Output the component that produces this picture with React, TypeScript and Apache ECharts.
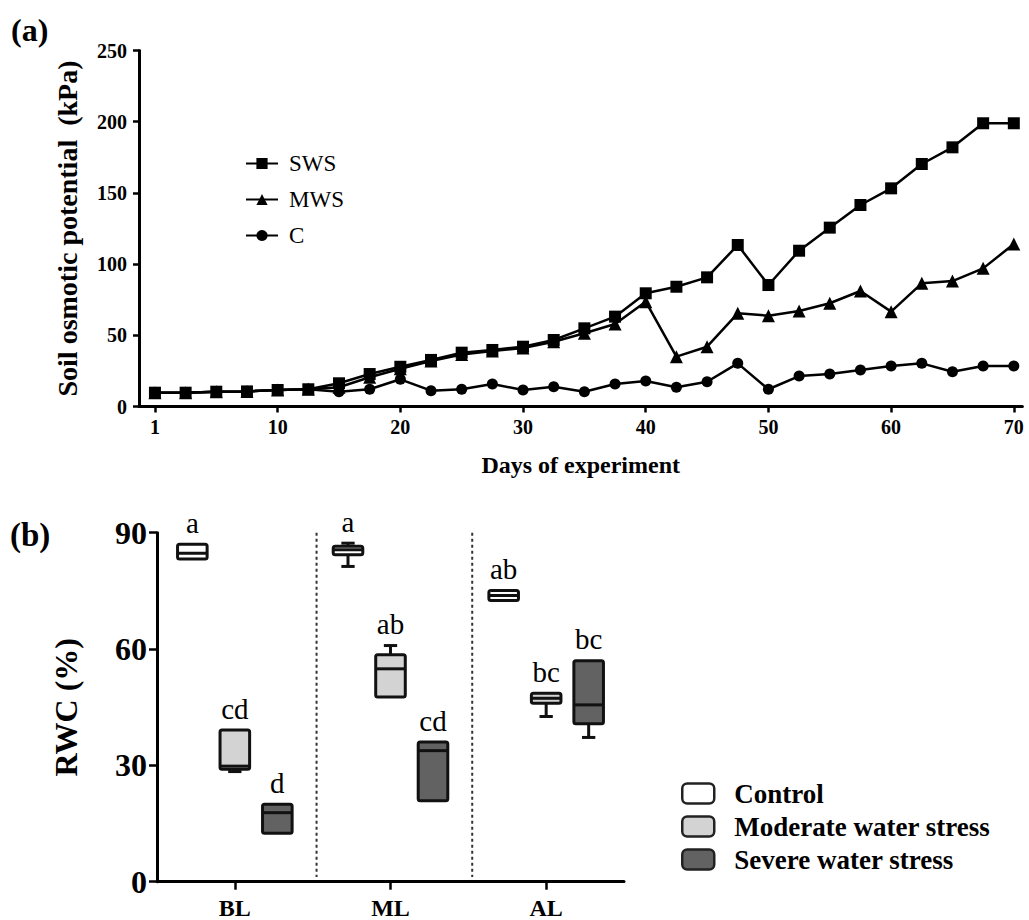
import React, { useEffect, useRef } from "react";
import * as echarts from "echarts";

const FONT = "'Liberation Serif', 'Times New Roman', serif";

// ---- Panel (a): soil osmotic potential ----
const days = [0, 2.5, 5, 7.5, 10, 12.5, 15, 17.5, 20, 22.5, 25, 27.5, 30, 32.5, 35, 37.5, 40, 42.5, 45, 47.5, 50, 52.5, 55, 57.5, 60, 62.5, 65, 67.5, 70];
const swsValues = [9.7, 9.7, 10.4, 10.6, 11.6, 12.1, 16.3, 22.8, 27.9, 32.7, 37.8, 39.7, 42.0, 46.7, 54.9, 63.1, 79.5, 84.1, 90.7, 113.4, 85.3, 109.4, 125.6, 141.5, 153.2, 170.3, 182.0, 198.9, 198.9];
const mwsValues = [9.7, 9.7, 10.4, 10.6, 11.6, 12.1, 13.5, 20.5, 26.5, 32.0, 36.5, 39.0, 41.0, 45.5, 51.4, 57.9, 73.6, 35.0, 42.0, 65.4, 63.8, 67.1, 72.5, 81.1, 66.6, 86.5, 88.1, 97.0, 114.1];
const cValues = [9.7, 9.7, 10.4, 10.6, 11.6, 12.1, 10.4, 12.1, 19.1, 11.1, 12.1, 15.8, 11.6, 13.9, 10.4, 15.8, 17.9, 13.5, 17.4, 30.3, 12.1, 21.4, 22.8, 25.6, 28.4, 30.3, 24.4, 28.4, 28.4];
const dayTickValues = [0, 10, 20, 30, 40, 50, 60, 70];
const dayTickLabels = ["1", "10", "20", "30", "40", "50", "60", "70"];

// ---- Panel (b): RWC box plots ----
const rwcCategories = ["BL", "ML", "AL"];
// [min, q1, median, q3, max]
const controlBoxes = [
  [83.2, 83.2, 84.7, 87.0, 87.0],
  [81.3, 84.3, 85.6, 86.5, 87.3],
  [72.5, 72.5, 73.8, 75.1, 75.1],
];
const moderateBoxes = [
  [28.4, 29.0, 29.8, 39.1, 39.1],
  [47.6, 47.6, 54.9, 58.5, 60.9],
  [42.6, 46.0, 47.3, 48.6, 48.6],
];
const severeBoxes = [
  [12.5, 12.5, 17.8, 20.0, 20.0],
  [20.9, 20.9, 33.8, 36.0, 36.0],
  [37.2, 40.7, 45.6, 57.0, 57.0],
];
const controlLetters = ["a", "a", "ab"];
const moderateLetters = ["cd", "ab", "bc"];
const severeLetters = ["d", "cd", "bc"];
const separatorPositions = [0.525, 1.525];

const groupNames = ["Control", "Moderate water stress", "Severe water stress"];
const groupFills = ["#ffffff", "#d3d3d3", "#626262"];

function boxSeries(name: string, boxes: number[][], letters: string[], offset: number, fill: string) {
  return {
    type: "custom",
    name,
    xAxisIndex: 1,
    yAxisIndex: 1,
    clip: false,
    silent: true,
    z: 3,
    itemStyle: { color: fill, borderColor: "#111", borderWidth: 2.5 },
    encode: { x: 0, y: [1, 2, 3, 4, 5] },
    data: boxes.map((b, i) => [i, b[0], b[1], b[2], b[3], b[4]]),
    renderItem: (params: any, api: any) => {
      const x = api.value(0) + offset;
      const vMin = api.value(1), vQ1 = api.value(2), vMed = api.value(3), vQ3 = api.value(4), vMax = api.value(5);
      const cx = api.coord([x, vMed])[0];
      const yMin = api.coord([x, vMin])[1];
      const yQ1 = api.coord([x, vQ1])[1];
      const yMed = api.coord([x, vMed])[1];
      const yQ3 = api.coord([x, vQ3])[1];
      const yMax = api.coord([x, vMax])[1];
      const w = api.size([0.19, 0])[0];
      const capW = w * 0.45;
      const stroke = "#111";
      const lw = 3;
      const children: any[] = [];
      if (vMax > vQ3) {
        children.push({ type: "line", shape: { x1: cx, y1: yMax, x2: cx, y2: yQ3 }, style: { stroke, lineWidth: lw } });
        children.push({ type: "line", shape: { x1: cx - capW / 2, y1: yMax, x2: cx + capW / 2, y2: yMax }, style: { stroke, lineWidth: lw } });
      }
      if (vMin < vQ1) {
        children.push({ type: "line", shape: { x1: cx, y1: yQ1, x2: cx, y2: yMin }, style: { stroke, lineWidth: lw } });
        children.push({ type: "line", shape: { x1: cx - capW / 2, y1: yMin, x2: cx + capW / 2, y2: yMin }, style: { stroke, lineWidth: lw } });
      }
      children.push({
        type: "rect",
        shape: { x: cx - w / 2, y: yQ3, width: w, height: yQ1 - yQ3, r: 2 },
        style: { fill, stroke, lineWidth: lw },
      });
      children.push({ type: "line", shape: { x1: cx - w / 2, y1: yMed, x2: cx + w / 2, y2: yMed }, style: { stroke, lineWidth: lw } });
      children.push({
        type: "text",
        x: cx,
        y: yMax - 7,
        style: {
          text: letters[params.dataIndex],
          fontFamily: FONT,
          fontSize: 29,
          fill: "#000",
          align: "center",
          verticalAlign: "bottom",
        },
      });
      return { type: "group", children };
    },
  };
}

export default function App() {
  const ref = useRef<HTMLDivElement>(null);

  useEffect(() => {
    if (!ref.current) return;
    const chart = echarts.init(ref.current, null, { renderer: "svg" });
    const axisLine = () => ({ show: true, onZero: false, lineStyle: { color: "#000", width: 3 } });
    const axisTick = (len: number) => ({ show: true, length: len, lineStyle: { color: "#000", width: 2.5 } });

    const lineSeries = (name: string, values: number[], symbol: string, size: number) => ({
      type: "line",
      name,
      xAxisIndex: 0,
      yAxisIndex: 0,
      data: days.map((d, i) => [d, values[i]]),
      symbol,
      symbolSize: size,
      showAllSymbol: true,
      lineStyle: { color: "#000", width: 2.5 },
      itemStyle: { color: "#000" },
      silent: true,
    });

    const option: any = {
      animation: false,
      textStyle: { fontFamily: FONT },
      graphic: [
        { type: "text", left: 11, top: 14, style: { text: "(a)", fontFamily: FONT, fontWeight: "bold", fontSize: 32, fill: "#000" } },
        { type: "text", left: 10, top: 518, style: { text: "(b)", fontFamily: FONT, fontWeight: "bold", fontSize: 33, fill: "#000" } },
      ],
      grid: [
        { left: 139, top: 50.5, width: 883.4, height: 356 },
        { left: 157, top: 532.7, width: 467, height: 349 },
      ],
      xAxis: [
        {
          type: "value",
          gridIndex: 0,
          min: -1.3,
          max: 70.7,
          splitLine: { show: false },
          axisLine: axisLine(),
          axisTick: { ...axisTick(6), customValues: dayTickValues },
          axisLabel: {
            customValues: dayTickValues,
            formatter: (v: number) => dayTickLabels[dayTickValues.indexOf(v)] ?? "",
            color: "#000",
            fontWeight: "bold",
            fontSize: 20,
            fontFamily: FONT,
            margin: 10,
          },
          name: "Days of experiment",
          nameLocation: "middle",
          nameGap: 46,
          nameTextStyle: { color: "#000", fontWeight: "bold", fontSize: 24, fontFamily: FONT },
        },
        {
          type: "value",
          gridIndex: 1,
          min: -0.5,
          max: 2.5,
          splitLine: { show: false },
          axisLine: axisLine(),
          axisTick: { ...axisTick(8), customValues: [0, 1, 2] },
          axisLabel: {
            customValues: [0, 1, 2],
            formatter: (v: number) => rwcCategories[v] ?? "",
            color: "#000",
            fontWeight: "bold",
            fontSize: 24,
            fontFamily: FONT,
            margin: 14,
          },
        },
      ],
      yAxis: [
        {
          type: "value",
          gridIndex: 0,
          min: 0,
          max: 250,
          interval: 50,
          splitLine: { show: false },
          axisLine: axisLine(),
          axisTick: axisTick(6),
          axisLabel: { color: "#000", fontWeight: "bold", fontSize: 20, fontFamily: FONT, margin: 12 },
          name: "Soil osmotic potential  (kPa)",
          nameLocation: "middle",
          nameGap: 58,
          nameTextStyle: { color: "#000", fontWeight: "bold", fontSize: 28, fontFamily: FONT },
        },
        {
          type: "value",
          gridIndex: 1,
          min: 0,
          max: 90,
          interval: 30,
          splitLine: { show: false },
          axisLine: axisLine(),
          axisTick: axisTick(8),
          axisLabel: { color: "#000", fontWeight: "bold", fontSize: 32, fontFamily: FONT, margin: 10 },
          name: "RWC (%)",
          nameLocation: "middle",
          nameGap: 75,
          nameTextStyle: { color: "#000", fontWeight: "bold", fontSize: 32, fontFamily: FONT },
        },
      ],
      legend: [
        {
          orient: "vertical",
          left: 240,
          top: 147,
          itemWidth: 32,
          itemHeight: 14,
          itemGap: 13,
          selectedMode: false,
          data: ["SWS", "MWS", "C"],
          textStyle: { color: "#000", fontSize: 23, lineHeight: 23, fontFamily: FONT, padding: [0, 0, 0, 6] },
        },
        {
          orient: "vertical",
          left: 676,
          top: 775,
          itemWidth: 32,
          itemHeight: 20,
          itemGap: 6,
          selectedMode: false,
          icon: "roundRect",
          data: groupNames.map((n, i) => ({
            name: n,
            icon: "roundRect",
            itemStyle: { color: groupFills[i], borderColor: "#222", borderWidth: 2.5 },
          })),
          textStyle: { color: "#000", fontSize: 27, lineHeight: 27, fontWeight: "bold", fontFamily: FONT, padding: [0, 0, 0, 15] },
        },
      ],
      series: [
        lineSeries("C", cValues, "circle", 11),
        lineSeries("MWS", mwsValues, "triangle", 13),
        lineSeries("SWS", swsValues, "rect", 12),
        {
          type: "custom",
          name: "separators",
          xAxisIndex: 1,
          yAxisIndex: 1,
          silent: true,
          clip: false,
          encode: { x: 0, y: 1 },
          data: separatorPositions.map((p) => [p, 90]),
          renderItem: (params: any, api: any) => {
            const top = api.coord([api.value(0), api.value(1)]);
            const bottom = api.coord([api.value(0), 1.2]);
            return {
              type: "line",
              shape: { x1: top[0], y1: top[1], x2: bottom[0], y2: bottom[1] },
              style: { stroke: "#333", lineWidth: 2, lineDash: [3, 3] },
            };
          },
        },
        boxSeries(groupNames[0], controlBoxes, controlLetters, -0.273, groupFills[0]),
        boxSeries(groupNames[1], moderateBoxes, moderateLetters, 0, groupFills[1]),
        boxSeries(groupNames[2], severeBoxes, severeLetters, 0.273, groupFills[2]),
      ],
    };
    chart.setOption(option);
    return () => chart.dispose();
  }, []);

  return (
    <div
      ref={ref}
      style={{ position: "fixed", left: 0, top: 0, width: 1029, height: 920, background: "#fff" }}
    />
  );
}
